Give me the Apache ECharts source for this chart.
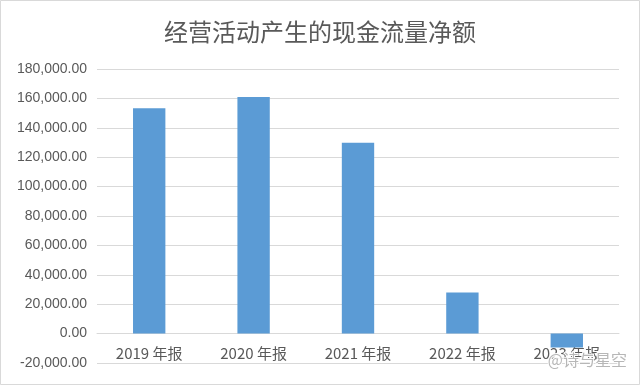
<!DOCTYPE html>
<html><head><meta charset="utf-8">
<script src="https://cdn.jsdelivr.net/npm/echarts@6/dist/echarts.min.js"></script>
<style>html,body{margin:0;padding:0;background:#fff}#c{width:640px;height:385px}</style>
</head><body><div id="c"></div>
<script>
const categories = ['2019 年报', '2020 年报', '2021 年报', '2022 年报', '2023 年报'];
const cashFlow = [153300, 161000, 129800, 28000, -9500];
const yTicks = { min: -20000, max: 180000, interval: 20000 };

function fmt(v) {
  const neg = v < 0;
  const s = Math.abs(v).toFixed(2).replace(/\B(?=(\d{3})+(?!\d))/g, ',');
  return (neg ? '-' : '') + s;
}

const gridTop = 69, gridBottom = 22;
const plotH = 385 - gridTop - gridBottom;
// distance of the zero value from the grid bottom, through the axis range
const zeroOffset = plotH * (0 - yTicks.min) / (yTicks.max - yTicks.min);

const chart = echarts.init(document.getElementById('c'));
chart.setOption({
  animation: false,
  backgroundColor: '#fff',
  title: {
    text: '经营活动产生的现金流量净额',
    left: 'center', top: 15,
    textStyle: { fontFamily: 'Noto Sans CJK SC', fontSize: 24, fontWeight: 'normal', color: '#595959' }
  },
  graphic: [
    { type: 'rect', shape: { x: 0.5, y: 0.5, width: 639, height: 384 }, style: { fill: 'none', stroke: '#d9d9d9', lineWidth: 1 }, silent: true, z: 100 },
    { type: 'text', right: 12, bottom: 16, z: 100, style: { text: '@诗与星空', fill: 'rgba(170,170,170,0.85)', stroke: '#fff', lineWidth: 2, font: '16px "Noto Sans CJK SC"' }, silent: true }
  ],
  grid: { left: 97, right: 21, top: gridTop, bottom: gridBottom },
  xAxis: {
    type: 'category',
    data: categories,
    offset: -zeroOffset,
    axisLine: { onZero: false, lineStyle: { color: '#d9d9d9' } },
    axisTick: { show: false },
    axisLabel: { color: '#595959', fontSize: 15, margin: 12, fontFamily: 'Noto Sans CJK SC' }
  },
  yAxis: {
    type: 'value',
    min: yTicks.min, max: yTicks.max, interval: yTicks.interval,
    axisLine: { show: false },
    axisTick: { show: false },
    splitLine: { lineStyle: { color: '#d9d9d9' } },
    axisLabel: { color: '#595959', fontSize: 14, margin: 10, fontFamily: 'Liberation Sans', formatter: fmt }
  },
  series: [{
    type: 'bar',
    data: cashFlow,
    barWidth: '31%',
    itemStyle: { color: '#5b9bd5' }
  }]
});
</script>
</body></html>
